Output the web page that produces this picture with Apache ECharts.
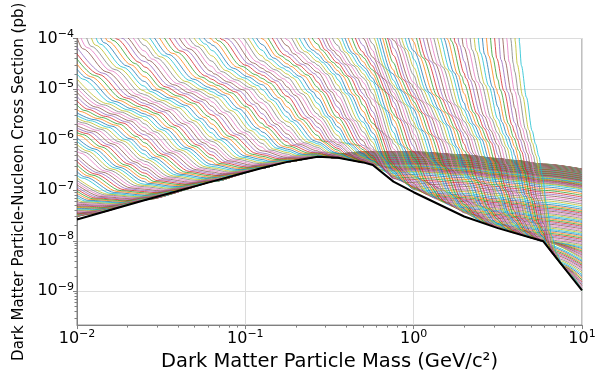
<!DOCTYPE html>
<html><head><meta charset="utf-8">
<script src="https://cdn.jsdelivr.net/npm/echarts@6/dist/echarts.min.js"></script>
<style>html,body{margin:0;padding:0;background:#fff}#c{width:603px;height:377px}</style>
</head><body><div id="c"></div>
<script>
// ---------- values (log10 units) ----------
// black envelope (best limit)
const envelopeLogMass  = [-2.0, -1.6, -1.2, -0.9, -0.75, -0.57, -0.45, -0.3, -0.243, -0.12, 0.0, 0.3, 0.5, 0.77, 1.0];
const envelopeLogSigma = [-7.58, -7.20, -6.83, -6.56, -6.44, -6.34, -6.36, -6.45, -6.50, -6.83, -7.04, -7.52, -7.75, -8.01, -8.98];
// upper edge of the dense band that the low-threshold curves settle into
const bandLogMass  = [-2.0, -1.2, -0.9, -0.75, -0.57, -0.3, 0.0, 0.3, 0.6, 1.0];
const bandLogSigma = [-7.57, -6.82, -6.55, -6.43, -6.31, -6.24, -6.24, -6.30, -6.41, -6.58];
// shape of each curve's fall from its threshold (distance above its floor)
const fallU      = [0, 0.004, 0.015, 0.04, 0.1, 0.25, 0.42, 0.52, 0.62, 0.72, 0.85, 1.0, 1.15, 1.3, 1.5];
const fallExcess = [9, 5.5, 4.5, 3.8, 3.35, 2.75, 2.12, 1.88, 1.65, 1.3, 0.8, 0.32, 0.1, 0.02, 0];
// per-curve threshold masses (log10 GeV) of the drawn family
const curveCount = 180;
const firstThreshold = -4.0, lastThreshold = 0.62;
// how far each curve's floor sinks below the band, by threshold
const depthThreshold = [-4.0, -2.5, -1.5, -1.2, -0.9, -0.5, -0.1, 0.3, 0.62];
const depthValue     = [0, 0.1, 0.25, 0.4, 0.8, 1.2, 1.6, 2.0, 2.45];
// horizontal width of the fall, by threshold
const widthThreshold = [-4.0, -3.0, -2.0, -1.0, -0.5, 0.0, 0.4, 0.62];
const widthValue     = [1.6, 1.2, 0.95, 0.75, 0.65, 0.5, 0.32, 0.2];
// axis ticks
const yTickValues = [1e-9, 1e-8, 1e-7, 1e-6, 1e-5, 1e-4];
const xTickValues = [0.01, 0.1, 1, 10];
const palette = ['#1f77b4','#ff7f0e','#2ca02c','#d62728','#9467bd','#8c564b','#e377c2','#7f7f7f','#bcbd22','#17becf'];

function lin(xs, ys, x) {
  if (x <= xs[0]) return ys[0];
  for (let i = 1; i < xs.length; i++) {
    if (x <= xs[i]) { const f = (x - xs[i-1]) / (xs[i] - xs[i-1]); return ys[i-1] + f * (ys[i] - ys[i-1]); }
  }
  return ys[ys.length - 1];
}
function minorValues(lo, hi) {
  const out = [];
  for (let e = lo; e < hi; e++) for (let d = 2; d <= 9; d++) out.push(d * Math.pow(10, e));
  return out;
}

const series = [];
for (let k = 0; k < curveCount; k++) {
  const t = firstThreshold + (lastThreshold - firstThreshold) * k / (curveCount - 1);
  const w = lin(widthThreshold, widthValue, t);
  const d = lin(depthThreshold, depthValue, t);
  let ms = fallU.map(u => t + u * w).concat(envelopeLogMass, bandLogMass, [-2, 1]);
  ms = ms.filter(m => m >= -2 && m <= 1).sort((a, b) => a - b);
  const pts = [];
  let last = -99;
  for (const m of ms) {
    if (m - last < 0.008) continue;
    last = m;
    const floor = Math.max(lin(envelopeLogMass, envelopeLogSigma, m), lin(bandLogMass, bandLogSigma, m) - d);
    const u = (m - t) / w;
    const ex = u < 0 ? 12 : lin(fallU, fallExcess, u);
    pts.push([Math.pow(10, m), Math.pow(10, floor + ex)]);
  }
  if (t > -2) pts.unshift([Math.pow(10, t), 1]);
  series.push({type: 'line', data: pts, symbol: 'none', smooth: 0.3, smoothMonotone: 'x', clip: true,
    lineStyle: {width: 0.8, color: palette[k % 10]}, silent: true, z: 2});
}
series.push({type: 'line', symbol: 'none', clip: true, silent: true, z: 3,
  data: envelopeLogMass.map((m, i) => [Math.pow(10, m), Math.pow(10, envelopeLogSigma[i])]),
  lineStyle: {width: 2, color: '#000'}});

const font = 'DejaVu Sans';
const rich = {b: {fontSize: 16, fontFamily: font, color: '#000', lineHeight: 20},
              s: {fontSize: 11, fontFamily: font, color: '#000', verticalAlign: 'top', lineHeight: 11}};
function powLabel(v) {
  const e = Math.round(Math.log10(v));
  return '{b|10}{s|' + (e < 0 ? '\u2212' : '') + Math.abs(e) + '}';
}
const yMin = 2.15e-10;
const option = {
  animation: false,
  backgroundColor: '#fff',
  grid: {left: 77, right: 21, top: 38.5, bottom: 41, show: true, borderColor: '#808080', borderWidth: 1, containLabel: false},
  xAxis: [
    {type: 'log', logBase: 10, min: 0.01, max: 10,
     name: 'Dark Matter Particle Mass (GeV/c\u00b2)', nameLocation: 'middle', nameGap: 22,
     nameTextStyle: {fontSize: 19.5, fontFamily: font, color: '#000'},
     axisLine: {show: true, lineStyle: {color: '#808080'}},
     axisTick: {show: true, length: 4, lineStyle: {color: '#808080'}, customValues: xTickValues},
     axisLabel: {margin: 4, formatter: powLabel, rich: rich, customValues: xTickValues},
     splitLine: {show: true, lineStyle: {color: '#dcdcdc', width: 1}}},
    {type: 'log', logBase: 10, min: 0.01, max: 10, position: 'bottom',
     axisLine: {show: false}, axisLabel: {show: false}, splitLine: {show: false},
     axisTick: {show: true, length: 2.5, lineStyle: {color: '#808080'}, customValues: minorValues(-2, 1)}}
  ],
  yAxis: [
    {type: 'log', logBase: 10, min: yMin, max: 1e-4,
     name: 'Dark Matter Particle-Nucleon Cross Section (pb)', nameLocation: 'middle', nameGap: 46,
     nameTextStyle: {fontSize: 15, fontFamily: font, color: '#000'},
     axisLine: {show: true, lineStyle: {color: '#808080'}},
     axisTick: {show: true, length: 4, lineStyle: {color: '#808080'}, customValues: yTickValues},
     axisLabel: {margin: 3, formatter: powLabel, rich: rich, customValues: yTickValues},
     splitLine: {show: true, lineStyle: {color: '#dcdcdc', width: 1}}},
    {type: 'log', logBase: 10, min: yMin, max: 1e-4, position: 'left',
     axisLine: {show: false}, axisLabel: {show: false}, splitLine: {show: false},
     axisTick: {show: true, length: 2.5, lineStyle: {color: '#808080'}, customValues: minorValues(-10, -4).filter(v => v > yMin)}}
  ],
  series: series
};
const chart = echarts.init(document.getElementById('c'), null, {renderer: 'canvas'});
chart.setOption(option);
</script></body></html>
